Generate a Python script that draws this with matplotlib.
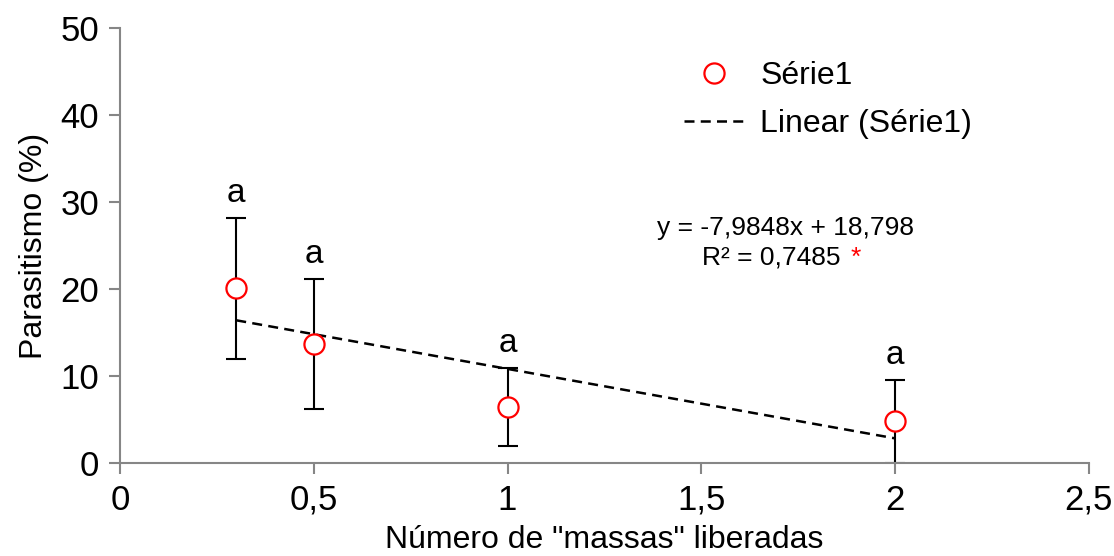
import matplotlib.pyplot as plt
from matplotlib.lines import Line2D
from matplotlib.ticker import FuncFormatter

plt.rcParams['font.family'] = ['Liberation Sans', 'DejaVu Sans']

# dados
massas = [0.3, 0.5, 1.0, 2.0]
parasitismo = [20.1, 13.7, 6.45, 4.85]
erro_inf = [8.2, 7.5, 4.45, 4.85]
erro_sup = [8.1, 7.45, 4.5, 4.7]
letras = ['a', 'a', 'a', 'a']

# reta de tendência (Excel)
coef_a = -7.9848
coef_b = 18.798
eq_texto = 'y = -7,9848x + 18,798'
r2_texto = 'R² = 0,7485'

fig = plt.figure(figsize=(11.14, 5.56), dpi=100)
ax = fig.add_axes([0.1077, 0.1673, 0.8698, 0.7823])

ax.errorbar(massas, parasitismo, yerr=[erro_inf, erro_sup], fmt='none',
            ecolor='black', elinewidth=1.5, capsize=7, capthick=1.5, zorder=2)
ax.plot(massas, parasitismo, 'o', ms=14.5, mfc='white', mec='red', mew=1.6, zorder=4)

x_fit = [min(massas), max(massas)]
y_fit = [coef_a * x + coef_b for x in x_fit]
ax.plot(x_fit, y_fit, color='black', lw=1.8, ls=(0, (4, 2.5)), zorder=3)

for x, y, e, l in zip(massas, parasitismo, erro_sup, letras):
    ax.text(x, y + e + 1.0, l, ha='center', va='bottom', fontsize=24)

ax.text(1.716, 27.0, eq_texto, ha='center', va='center', fontsize=19)
ax.text(1.858, 23.6, r2_texto, ha='right', va='center', fontsize=19)
ax.text(1.899, 23.6, '*', ha='center', va='center', fontsize=19, color='red')

ax.set_xlim(0, 2.5)
ax.set_ylim(0, 50)
ax.set_xticks([0, 0.5, 1, 1.5, 2, 2.5])
ax.set_yticks([0, 10, 20, 30, 40, 50])
fmt = FuncFormatter(lambda v, p: ('%g' % v).replace('.', ','))
ax.xaxis.set_major_formatter(fmt)
ax.yaxis.set_major_formatter(fmt)

for s in ['top', 'right']:
    ax.spines[s].set_visible(False)
for s in ['left', 'bottom']:
    ax.spines[s].set_color('#868686')
    ax.spines[s].set_linewidth(1.5)
ax.tick_params(direction='out', length=8, width=1.5, color='#868686',
               labelsize=25, pad=7)

ax.set_xlabel('Número de "massas" liberadas', fontsize=23, labelpad=6)
ax.set_ylabel('Parasitismo (%)', fontsize=23, labelpad=8)

handles = [Line2D([], [], ls='none', marker='o', ms=14.5, mfc='white', mec='red', mew=1.6),
           Line2D([], [], color='black', lw=1.8, ls=(0, (4, 2.5)))]
ax.legend(handles, ['Série1', 'Linear (Série1)'], loc='upper left',
          bbox_to_anchor=(0.552, 0.99), frameon=False, fontsize=23,
          handlelength=1.9, handletextpad=0.5, labelspacing=0.55)

fig.savefig('out.png', dpi=100)
